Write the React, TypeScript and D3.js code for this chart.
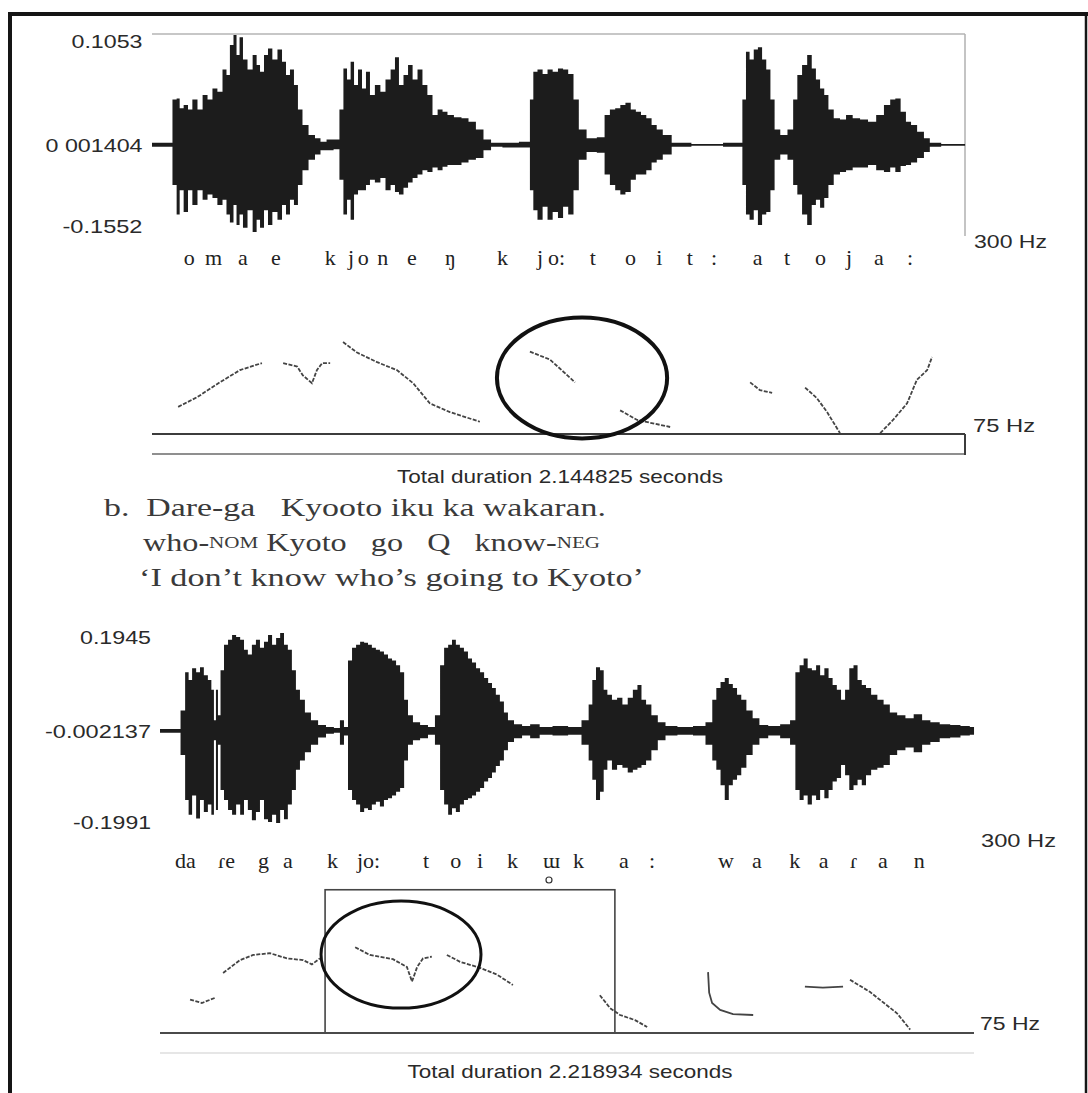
import React from 'react';
import * as d3 from 'd3';

// durations of the two recordings, in ms
const TOP_DURATION = 2144.825;
const BOTTOM_DURATION = 2218.934;

// waveform envelopes: [time ms, upper peak %, lower peak %] (100 = labelled extreme)
const topWave = [
  [0, 2, 2], [47, 2, 2], [61, 41, 46], [69, 42, 80], [77, 33, 52], [90, 36, 77], [100, 32, 52], [113, 41, 69],
  [127, 32, 52], [140, 45, 63], [153, 41, 57], [166, 51, 61], [179, 48, 69], [193, 68, 63], [200, 63, 80],
  [211, 90, 89], [219, 99, 69], [227, 81, 92], [235, 97, 80], [245, 77, 95], [259, 68, 75], [272, 81, 100],
  [280, 72, 86], [290, 66, 95], [301, 81, 75], [311, 87, 92], [324, 77, 77], [338, 86, 86], [348, 75, 69],
  [359, 63, 80], [369, 68, 63], [380, 54, 69], [390, 32, 46], [404, 18, 29], [422, 9, 17], [438, 6, 11],
  [451, 3, 6], [470, 5, 6], [488, 5, 5], [501, 32, 40], [509, 69, 80], [520, 59, 63], [528, 75, 86],
  [538, 54, 57], [549, 68, 52], [559, 51, 52], [570, 66, 46], [580, 45, 40], [596, 54, 43], [609, 48, 38],
  [623, 59, 52], [636, 68, 46], [646, 79, 54], [657, 54, 57], [670, 63, 49], [681, 72, 43], [694, 59, 38],
  [707, 68, 34], [720, 54, 29], [733, 45, 31], [747, 27, 26], [760, 32, 29], [773, 30, 25], [786, 27, 23],
  [807, 25, 23], [826, 24, 20], [844, 21, 17], [865, 14, 15], [884, 5, 6], [905, 2, 2], [944, 2, 3],
  [992, 3, 3], [1002, 41, 52], [1010, 66, 75], [1024, 68, 86], [1037, 64, 71], [1050, 68, 86], [1064, 66, 77],
  [1078, 69, 84], [1091, 68, 71], [1105, 64, 80], [1119, 41, 52], [1133, 14, 17], [1160, 6, 8], [1187, 7, 9],
  [1201, 27, 34], [1215, 32, 46], [1229, 33, 52], [1242, 36, 57], [1256, 38, 54], [1270, 32, 40], [1283, 30, 34],
  [1297, 27, 34], [1311, 24, 29], [1325, 18, 20], [1338, 14, 17], [1357, 9, 11], [1385, 2, 2], [1461, 1, 1],
  [1552, 2, 2], [1563, 41, 46], [1571, 84, 80], [1582, 77, 86], [1593, 86, 75], [1604, 88, 92], [1615, 77, 80],
  [1626, 68, 77], [1637, 41, 52], [1648, 14, 17], [1667, 9, 11], [1686, 14, 17], [1697, 41, 46], [1708, 63, 57],
  [1722, 72, 80], [1735, 81, 92], [1746, 69, 69], [1757, 59, 63], [1768, 51, 72], [1779, 45, 61], [1790, 32, 46],
  [1807, 24, 34], [1823, 23, 31], [1839, 27, 29], [1858, 24, 26], [1878, 23, 26], [1900, 21, 23], [1921, 27, 29],
  [1941, 36, 31], [1954, 41, 26], [1968, 42, 31], [1982, 30, 24], [1996, 21, 23], [2009, 18, 20], [2028, 12, 15],
  [2045, 6, 8], [2059, 2, 2], [2105, 1, 1], [2145, 1, 1],
];

const bottomWave = [
  [0, 2, 2], [49, 2, 2], [63, 21, 26], [74, 60, 75], [82, 52, 91], [93, 64, 70], [104, 60, 95], [114, 65, 75],
  [125, 57, 88], [136, 52, 80], [144, 42, 91], [150, 11, 10], [155, 42, 86], [161, 16, 15], [169, 62, 64],
  [180, 88, 75], [191, 93, 86], [202, 98, 91], [213, 96, 80], [224, 93, 91], [234, 83, 75], [245, 78, 86],
  [256, 88, 97], [267, 93, 88], [278, 85, 75], [289, 91, 96], [300, 98, 99], [311, 88, 91], [322, 95, 100],
  [333, 100, 86], [343, 88, 96], [354, 83, 80], [365, 62, 64], [376, 42, 42], [387, 32, 32], [403, 19, 23],
  [420, 11, 15], [442, 6, 7], [463, 4, 3], [485, 3, 2], [496, 11, 15], [507, 4, 5], [518, 72, 64], [529, 85, 75],
  [540, 88, 80], [551, 91, 88], [562, 90, 84], [572, 88, 86], [583, 85, 80], [594, 83, 77], [605, 81, 82],
  [616, 78, 75], [627, 74, 73], [638, 72, 70], [649, 67, 66], [660, 60, 62], [671, 32, 32], [681, 16, 15],
  [698, 9, 10], [720, 6, 8], [741, 4, 4], [758, 16, 15], [769, 67, 64], [780, 85, 80], [791, 88, 91],
  [801, 93, 84], [812, 88, 88], [823, 85, 80], [834, 81, 75], [845, 74, 73], [856, 70, 70], [867, 64, 66],
  [878, 60, 62], [889, 54, 55], [900, 49, 51], [910, 44, 45], [921, 37, 38], [932, 30, 32], [943, 19, 21],
  [954, 11, 12], [976, 7, 8], [998, 5, 5], [1020, 7, 8], [1050, 4, 4], [1090, 5, 5], [1135, 4, 4], [1163, 11, 15],
  [1174, 27, 32], [1183, 52, 53], [1194, 65, 75], [1205, 62, 66], [1214, 42, 42], [1225, 37, 32], [1239, 32, 42],
  [1253, 34, 37], [1268, 27, 40], [1282, 34, 45], [1296, 42, 42], [1307, 47, 40], [1318, 32, 37], [1332, 27, 32],
  [1347, 16, 21], [1367, 9, 10], [1389, 5, 5], [1432, 4, 4], [1474, 5, 5], [1500, 9, 15], [1511, 32, 32],
  [1522, 44, 42], [1534, 50, 59], [1545, 54, 75], [1556, 48, 59], [1567, 44, 53], [1579, 37, 48], [1590, 32, 40],
  [1607, 21, 26], [1624, 13, 15], [1644, 6, 8], [1672, 5, 5], [1709, 7, 8], [1726, 11, 15], [1738, 60, 64],
  [1749, 67, 75], [1760, 74, 70], [1771, 64, 80], [1783, 62, 70], [1794, 67, 75], [1805, 57, 64], [1817, 64, 73],
  [1828, 54, 64], [1839, 47, 55], [1851, 42, 51], [1862, 32, 37], [1873, 42, 48], [1885, 64, 64], [1896, 67, 59],
  [1907, 52, 53], [1919, 47, 59], [1930, 44, 48], [1947, 37, 42], [1964, 32, 40], [1981, 27, 37], [1998, 19, 26],
  [2021, 16, 21], [2043, 13, 18], [2066, 17, 23], [2089, 11, 15], [2111, 9, 12], [2140, 7, 8], [2168, 6, 7],
  [2196, 5, 5], [2219, 4, 4],
];

// pitch tracks: segments of [time ms, F0 Hz]
const topPitch = [
  [[69, 106], [119, 117], [179, 134], [232, 148], [290, 156]],
  [[346, 156], [383, 152], [398, 142], [422, 133], [435, 148], [449, 156], [470, 156]],
  [[504, 180], [541, 168], [594, 157], [646, 148], [689, 133], [733, 110], [786, 100], [865, 89]],
  [[997, 169], [1050, 160], [1116, 134]],
  [[1235, 102], [1280, 91], [1367, 83]],
  [[1578, 134], [1604, 125], [1636, 122]],
  [[1723, 128], [1754, 116], [1781, 100], [1815, 76]],
  [[1921, 76], [1955, 91], [1992, 110], [2018, 137], [2045, 148], [2058, 163]],
];

const bottomPitch = [
  [[82, 114], [114, 110], [150, 116]],
  [[172, 145], [218, 160], [254, 166], [300, 168], [346, 162], [390, 160], [414, 155], [436, 162]],
  [[532, 175], [572, 166], [635, 161], [673, 152], [687, 135], [701, 152], [717, 162], [741, 164]],
  [[782, 166], [818, 158], [872, 151], [919, 143], [962, 131]],
  [[1199, 119], [1227, 104], [1254, 96], [1295, 90], [1328, 82]],
  [[1494, 146], [1497, 122], [1505, 110], [1527, 102], [1562, 97], [1617, 96]],
  [[1758, 129], [1807, 128], [1862, 129]],
  [[1881, 137], [1935, 123], [2009, 98], [2045, 79]],
];
const solidBottomSegments = [5, 6];

// segment transcriptions aligned to time (ms)
const topSegments = [
  ['o', 84], ['m', 140], ['a', 227], ['e', 314], ['k', 456], ['j', 517], ['o', 543], ['n', 594], ['e', 673],
  ['ŋ', 773], ['k', 910], ['j', 1016], ['o:', 1045], ['t', 1155], ['o', 1248], ['i', 1330], ['t', 1411],
  [':', 1475], ['a', 1585], ['t', 1667], ['o', 1749], ['j', 1831], ['a', 1905], [':', 1992],
];
const bottomSegments = [
  ['da', 41], ['ɾe', 158], ['g', 267], ['a', 335], ['k', 455], ['jo:', 537], ['t', 717], ['o', 791], ['i', 864],
  ['k', 946], ['ɯ', 1044], ['k', 1126], ['a', 1251], [':', 1333], ['w', 1521], ['a', 1614], ['k', 1715],
  ['a', 1796], ['ɾ', 1881], ['a', 1957], ['n', 2055],
];
const devoicedSegment = 1044;

// axis labels
const ampTicks = [100, 0, -100];
const topAmpLabels = ['0.1053', '0 001404', '-0.1552'];
const bottomAmpLabels = ['0.1945', '-0.002137', '-0.1991'];
const pitchLabels = ['300 Hz', '75 Hz'];
const topDurationLabel = 'Total duration 2.144825 seconds';
const bottomDurationLabel = 'Total duration 2.218934 seconds';

// circled / boxed regions: [t0 ms, t1 ms, f0 low Hz, f0 high Hz]
const topCircle = [910, 1359, 70, 208];
const bottomCircle = [439, 875, 104, 229];
const bottomBox = [450, 1240, 75, 242];

const gloss = {
  line1: 'b.  Dare-ga   Kyooto iku ka wakaran.',
  line3: '‘I don’t know who’s going to Kyoto’',
};

const SANS = '"Liberation Sans", Arial, sans-serif';
const SERIF = '"Liberation Serif", "Times New Roman", serif';

const topX = d3.scaleLinear().domain([0, TOP_DURATION]).range([152, 965]);
const topAmp = d3.scaleLinear().domain([-100, 0, 100]).range([232, 145, 34]);
const topF0 = d3.scaleLinear().domain([75, 300]).range([434, 237]);
const botX = d3.scaleLinear().domain([0, BOTTOM_DURATION]).range([160, 974]);
const botAmp = d3.scaleLinear().domain([-100, 0, 100]).range([823, 731, 633]);
const botF0 = d3.scaleLinear().domain([75, 300]).range([1033, 840]);

function waveArea(xs, ys) {
  return d3.area()
    .x(d => xs(d[0]))
    .y0(d => ys(-d[2]))
    .y1(d => ys(d[1]))
    .curve(d3.curveStep);
}

function pitchLine(xs, ys) {
  return d3.line().x(d => xs(d[0])).y(d => ys(d[1]));
}

function Txt({ x, y, w, anchor = 'start', size = 19, family = SANS, fill = '#2a2a2a', children }) {
  return (
    <text x={x} y={y} textAnchor={anchor} dominantBaseline="central" fontFamily={family}
      fontSize={size} fill={fill} textLength={w} lengthAdjust="spacingAndGlyphs"
      style={{ whiteSpace: 'pre' }}>
      {children}
    </text>
  );
}

function Ellipse({ box, xs, ys, width }) {
  const [t0, t1, f0, f1] = box;
  const cx = (xs(t0) + xs(t1)) / 2;
  const cy = (ys(f0) + ys(f1)) / 2;
  return <ellipse cx={cx} cy={cy} rx={Math.abs(xs(t1) - xs(t0)) / 2} ry={Math.abs(ys(f0) - ys(f1)) / 2}
    fill="none" stroke="#111" strokeWidth={width} />;
}

export default function App() {
  const topArea = waveArea(topX, topAmp);
  const botArea = waveArea(botX, botAmp);
  const topLine = pitchLine(topX, topF0);
  const botLine = pitchLine(botX, botF0);
  const ampYOffset = [7, 0, -6];

  return (
    <svg width={1088} height={1093} style={{ position: 'absolute', left: 0, top: 0, background: '#fff' }}>
      {/* frame */}
      <line x1={10} y1={14} x2={1088} y2={14} stroke="#151515" strokeWidth={4} />
      <line x1={10} y1={12} x2={10} y2={1093} stroke="#151515" strokeWidth={4} />
      <line x1={1086} y1={12} x2={1086} y2={1093} stroke="#151515" strokeWidth={2.5} />

      {/* ---- top recording ---- */}
      <line x1={topX(0)} y1={34} x2={topX(TOP_DURATION)} y2={34} stroke="#b5b5b5" strokeWidth={1.5} />
      <line x1={topX(TOP_DURATION)} y1={34} x2={topX(TOP_DURATION)} y2={236} stroke="#b0b0b0" strokeWidth={1.5} />
      <path d={topArea(topWave)} fill="#1c1c1c" />
      {ampTicks.map((v, i) => (
        <Txt key={i} x={142.5} y={topAmp(v) + ampYOffset[i]} anchor="end"
          w={[71, 97, 80][i]}>{topAmpLabels[i]}</Txt>
      ))}
      <Txt x={974} y={241} w={73}>{pitchLabels[0]}</Txt>
      {topSegments.map(([s, t], i) => (
        <text key={i} x={topX(t)} y={265} fontFamily={SERIF} fontSize={22} fill="#222">{s}</text>
      ))}

      {topPitch.map((seg, i) => (
        <path key={i} d={topLine(seg)} fill="none" stroke="#444" strokeWidth={1.8}
          strokeDasharray="4 1.5" />
      ))}
      <line x1={topX(0)} y1={topF0(75)} x2={topX(TOP_DURATION)} y2={topF0(75)} stroke="#3c3c3c" strokeWidth={2} />
      <line x1={topX(0)} y1={454} x2={topX(TOP_DURATION)} y2={454} stroke="#6a6a6a" strokeWidth={1.5} />
      <line x1={topX(TOP_DURATION)} y1={topF0(75)} x2={topX(TOP_DURATION)} y2={455} stroke="#3c3c3c" strokeWidth={2} />
      <Ellipse box={topCircle} xs={topX} ys={topF0} width={4} />
      <Txt x={973} y={425} w={62}>{pitchLabels[1]}</Txt>
      <Txt x={560} y={476} anchor="middle" w={326}>{topDurationLabel}</Txt>

      {/* ---- example sentence ---- */}
      <Txt x={104} y={507} w={502} size={26} family={SERIF} fill="#3a3a3a">{gloss.line1}</Txt>
      <text x={143} y={542} dominantBaseline="central" fontFamily={SERIF} fontSize={26} fill="#3a3a3a"
        textLength={457} lengthAdjust="spacingAndGlyphs" style={{ whiteSpace: 'pre' }}>
        who-<tspan fontSize={17}>NOM</tspan> Kyoto   go   Q   know-<tspan fontSize={17}>NEG</tspan>
      </text>
      <Txt x={139} y={577} w={505} size={26} family={SERIF} fill="#3a3a3a">{gloss.line3}</Txt>

      {/* ---- bottom recording ---- */}
      <path d={botArea(bottomWave)} fill="#1c1c1c" />
      {ampTicks.map((v, i) => (
        <Txt key={i} x={151} y={botAmp(v) + [4, 0, -1][i]} anchor="end"
          w={[71, 106, 78][i]}>{bottomAmpLabels[i]}</Txt>
      ))}
      <Txt x={981} y={840} w={75}>{pitchLabels[0]}</Txt>
      {bottomSegments.map(([s, t], i) => (
        <text key={i} x={botX(t)} y={868} fontFamily={SERIF} fontSize={22} fill="#222">{s}</text>
      ))}
      <circle cx={botX(devoicedSegment) + 6} cy={880} r={3} fill="none" stroke="#333" strokeWidth={1.2} />

      <rect x={botX(bottomBox[0])} y={botF0(bottomBox[3])} width={botX(bottomBox[1]) - botX(bottomBox[0])}
        height={botF0(bottomBox[2]) - botF0(bottomBox[3])} fill="none" stroke="#454545" strokeWidth={1.6} />
      {bottomPitch.map((seg, i) => (
        <path key={i} d={botLine(seg)} fill="none" stroke="#444" strokeWidth={1.8}
          strokeDasharray={solidBottomSegments.includes(i) ? undefined : '4 1.5'} />
      ))}
      <line x1={botX(0)} y1={botF0(75)} x2={botX(BOTTOM_DURATION)} y2={botF0(75)} stroke="#4a4a4a" strokeWidth={2} />
      <line x1={botX(0)} y1={1053} x2={botX(BOTTOM_DURATION)} y2={1053} stroke="#e6e6e6" strokeWidth={2} />
      <Ellipse box={bottomCircle} xs={botX} ys={botF0} width={3} />
      <Txt x={980} y={1023} w={60}>{pitchLabels[1]}</Txt>
      <Txt x={570} y={1071} anchor="middle" w={325}>{bottomDurationLabel}</Txt>
    </svg>
  );
}
